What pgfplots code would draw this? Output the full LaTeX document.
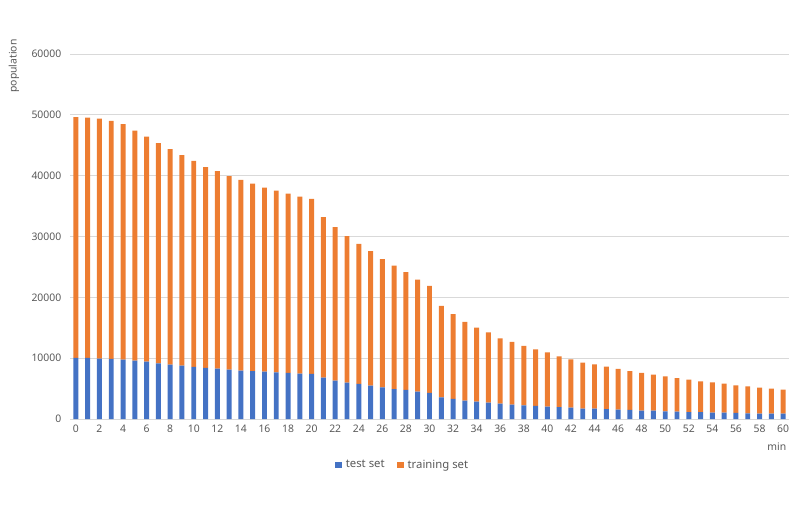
\documentclass[border=0pt]{standalone}
\usepackage{pgfplots}
\usepackage{pgfplotstable}
\usepackage{fontspec}
\setmainfont{Noto Sans}
\pgfplotsset{compat=1.18}
\definecolor{testblue}{HTML}{4472C4}
\definecolor{trainorange}{HTML}{ED7D31}
\definecolor{gridgray}{HTML}{D9D9D9}
\definecolor{txtgray}{HTML}{595959}
\pgfplotstableread{
x test train
0 10030 39590
1 10030 39530
2 9920 39470
3 9870 39140
4 9750 38720
5 9590 37830
6 9430 37000
7 9160 36190
8 8930 35430
9 8770 34600
10 8550 33880
11 8390 33010
12 8270 32470
13 8110 31810
14 7950 31360
15 7890 30810
16 7780 30260
17 7680 29870
18 7570 29490
19 7450 29110
20 7400 28780
21 6790 26380
22 6300 25230
23 5970 24080
24 5760 23020
25 5480 22100
26 5210 21060
27 4930 20280
28 4770 19360
29 4490 18420
30 4280 17590
31 3570 15020
32 3290 13930
33 3010 12940
34 2850 12170
35 2680 11580
36 2520 10750
37 2350 10310
38 2250 9760
39 2140 9320
40 2020 8950
41 1970 8340
42 1860 7960
43 1690 7570
44 1690 7310
45 1620 7010
46 1530 6690
47 1480 6410
48 1370 6200
49 1370 5920
50 1260 5760
51 1200 5540
52 1150 5310
53 1150 5050
54 1040 5000
55 1040 4770
56 990 4550
57 940 4440
58 870 4280
59 870 4110
60 870 3950
}\datatable
\begin{document}
\begin{tikzpicture}[x=0.75pt,y=0.75pt]
\useasboundingbox (0,0) rectangle (800,522);
\begin{axis}[
  at={(70pt*0.75,103pt*0.75)}, anchor=south west,
  scale only axis,
  width=719*0.75pt, height=365*0.75pt,
  ybar stacked, bar width=0.42,
  xmin=-0.5, xmax=60.5,
  ymin=0, ymax=60000,
  xtick={0,2,...,60},
  ytick={0,10000,...,60000},
  scaled y ticks=false,
  /pgf/number format/1000 sep={},
  /pgf/number format/assume math mode=true,
  major tick length=0pt,
  ymajorgrids, grid style={gridgray, line width=0.75pt},
  axis x line*=bottom, axis y line*=left,
  x axis line style={gridgray, line width=0.75pt, -},
  y axis line style={draw=none},
  tick label style={font=\fontsize{7.8}{9}\selectfont, text=txtgray},
  yticklabel style={xshift=-3pt},
  xticklabel style={yshift=-1pt},
  label style={font=\fontsize{7.8}{9}\selectfont, text=txtgray},
  xlabel={min},
  xlabel style={at={(axis description cs:0.983,-0.077)}, anchor=center},
  ylabel={population},
  ylabel style={at={(axis description cs:-0.078,0.967)}, anchor=center},
  legend style={at={(axis description cs:0.463,-0.126)}, anchor=center,
    draw=none, legend columns=2, font=\fontsize{8.5}{10}\selectfont, text=txtgray,
    /tikz/every even column/.append style={column sep=7pt},
    /tikz/every odd column/.append style={column sep=1pt}},
  legend image code/.code={\fill (0pt,-2.6pt) rectangle (5.2pt,2.6pt);},
]
\addplot[fill=testblue, draw=none] table[x=x,y=test]{\datatable};
\addplot[fill=trainorange, draw=none] table[x=x,y=train]{\datatable};
\legend{test set, training set}
\end{axis}
\end{tikzpicture}
\end{document}
